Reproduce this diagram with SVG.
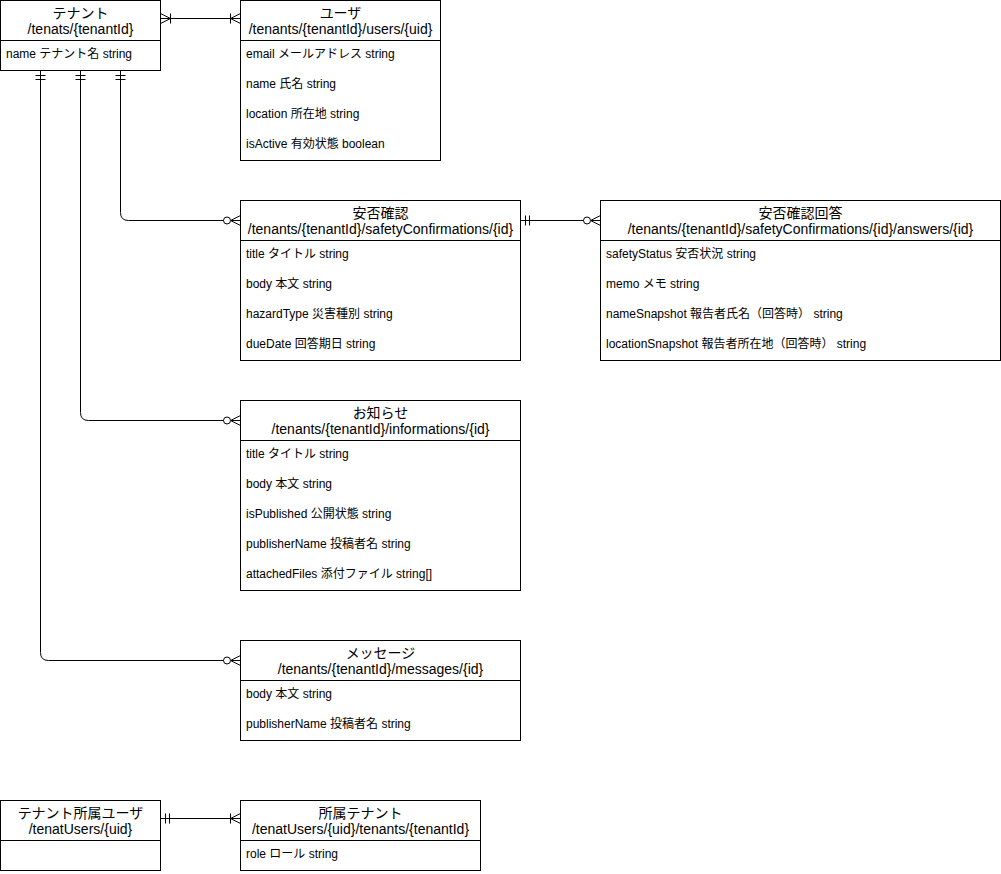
<svg xmlns="http://www.w3.org/2000/svg" width="1001" height="874" viewBox="0 0 1001 874">
<style>
.box{fill:#fff;stroke:#000;stroke-width:1}
.sep{stroke:#000;stroke-width:1;fill:none}
.hd{font-family:"Liberation Sans","Noto Sans CJK JP",sans-serif;font-size:14px;fill:#000;text-anchor:middle}
.row{font-family:"Liberation Sans","Noto Sans CJK JP",sans-serif;font-size:12px;fill:#000}
.edge{fill:none;stroke:#000;stroke-width:1}
</style>
<defs>
<marker id="mandOne" markerUnits="userSpaceOnUse" markerWidth="24" markerHeight="24" viewBox="-20 -10 24 20" refX="0" refY="0" orient="auto-start-reverse" overflow="visible">
<path d="M-5,-5V5M-9,-5V5" fill="none" stroke="#000" stroke-width="1"/>
</marker>
<marker id="zeroMany" markerUnits="userSpaceOnUse" markerWidth="24" markerHeight="24" viewBox="-20 -10 24 20" refX="0" refY="0" orient="auto-start-reverse" overflow="visible">
<path d="M-10,0L0,-5M-10,0L0,5M-10,0H0" fill="none" stroke="#000" stroke-width="1"/>
<circle cx="-13.5" cy="0" r="3.5" fill="#fff" stroke="#000" stroke-width="1"/>
</marker>
<marker id="oneMany" markerUnits="userSpaceOnUse" markerWidth="24" markerHeight="24" viewBox="-20 -10 24 20" refX="0" refY="0" orient="auto-start-reverse" overflow="visible">
<path d="M-10,0L0,-5M-10,0L0,5M-10,0H0M-10,-5V5" fill="none" stroke="#000" stroke-width="1"/>
</marker>
</defs>

<g id="connectors">
<path class="edge" d="M160.5,18.5H240.5" marker-start="url(#oneMany)" marker-end="url(#oneMany)"/>
<path class="edge" d="M120.5,70.5V212.5Q120.5,220.5 128.5,220.5H240.5" marker-start="url(#mandOne)" marker-end="url(#zeroMany)"/>
<path class="edge" d="M80.5,70.5V412.5Q80.5,420.5 88.5,420.5H240.5" marker-start="url(#mandOne)" marker-end="url(#zeroMany)"/>
<path class="edge" d="M40.5,70.5V652.5Q40.5,660.5 48.5,660.5H240.5" marker-start="url(#mandOne)" marker-end="url(#zeroMany)"/>
<path class="edge" d="M520.5,220.5H600.5" marker-start="url(#mandOne)" marker-end="url(#zeroMany)"/>
<path class="edge" d="M160.5,818.5H240.5" marker-start="url(#mandOne)" marker-end="url(#oneMany)"/>
</g>

<g id="tenant">
<rect class="box" x="0.5" y="0.5" width="160" height="70"/>
<path class="sep" d="M0.5,40.5H160.5"/>
<text class="hd" x="80.5" y="18">テナント</text>
<text class="hd" x="80.5" y="34">/tenats/{tenantId}</text>
<text class="row" x="6" y="58">name テナント名 string</text>
</g>

<g id="user">
<rect class="box" x="240.5" y="0.5" width="200" height="160"/>
<path class="sep" d="M240.5,40.5H440.5"/>
<text class="hd" x="340.5" y="18">ユーザ</text>
<text class="hd" x="340.5" y="34">/tenants/{tenantId}/users/{uid}</text>
<text class="row" x="246" y="58">email メールアドレス string</text>
<text class="row" x="246" y="88">name 氏名 string</text>
<text class="row" x="246" y="118">location 所在地 string</text>
<text class="row" x="246" y="148">isActive 有効状態 boolean</text>
</g>

<g id="safety">
<rect class="box" x="240.5" y="200.5" width="280" height="160"/>
<path class="sep" d="M240.5,240.5H520.5"/>
<text class="hd" x="380.5" y="218">安否確認</text>
<text class="hd" x="380.5" y="234">/tenants/{tenantId}/safetyConfirmations/{id}</text>
<text class="row" x="246" y="258">title タイトル string</text>
<text class="row" x="246" y="288">body 本文 string</text>
<text class="row" x="246" y="318">hazardType 災害種別 string</text>
<text class="row" x="246" y="348">dueDate 回答期日 string</text>
</g>

<g id="answers">
<rect class="box" x="600.5" y="200.5" width="400" height="160"/>
<path class="sep" d="M600.5,240.5H1000.5"/>
<text class="hd" x="800.5" y="218">安否確認回答</text>
<text class="hd" x="800.5" y="234">/tenants/{tenantId}/safetyConfirmations/{id}/answers/{id}</text>
<text class="row" x="606" y="258">safetyStatus 安否状況 string</text>
<text class="row" x="606" y="288">memo メモ string</text>
<text class="row" x="606" y="318">nameSnapshot 報告者氏名（回答時） string</text>
<text class="row" x="606" y="348">locationSnapshot 報告者所在地（回答時） string</text>
</g>

<g id="information">
<rect class="box" x="240.5" y="400.5" width="280" height="190"/>
<path class="sep" d="M240.5,440.5H520.5"/>
<text class="hd" x="380.5" y="418">お知らせ</text>
<text class="hd" x="380.5" y="434">/tenants/{tenantId}/informations/{id}</text>
<text class="row" x="246" y="458">title タイトル string</text>
<text class="row" x="246" y="488">body 本文 string</text>
<text class="row" x="246" y="518">isPublished 公開状態 string</text>
<text class="row" x="246" y="548">publisherName 投稿者名 string</text>
<text class="row" x="246" y="578">attachedFiles 添付ファイル string[]</text>
</g>

<g id="message">
<rect class="box" x="240.5" y="640.5" width="280" height="100"/>
<path class="sep" d="M240.5,680.5H520.5"/>
<text class="hd" x="380.5" y="658">メッセージ</text>
<text class="hd" x="380.5" y="674">/tenants/{tenantId}/messages/{id}</text>
<text class="row" x="246" y="698">body 本文 string</text>
<text class="row" x="246" y="728">publisherName 投稿者名 string</text>
</g>

<g id="tenantUser">
<rect class="box" x="0.5" y="800.5" width="160" height="70"/>
<path class="sep" d="M0.5,840.5H160.5"/>
<text class="hd" x="80.5" y="818">テナント所属ユーザ</text>
<text class="hd" x="80.5" y="834">/tenatUsers/{uid}</text>
</g>

<g id="affiliatedTenant">
<rect class="box" x="240.5" y="800.5" width="240" height="70"/>
<path class="sep" d="M240.5,840.5H480.5"/>
<text class="hd" x="360.5" y="818">所属テナント</text>
<text class="hd" x="360.5" y="834">/tenatUsers/{uid}/tenants/{tenantId}</text>
<text class="row" x="246" y="858">role ロール string</text>
</g>
</svg>
